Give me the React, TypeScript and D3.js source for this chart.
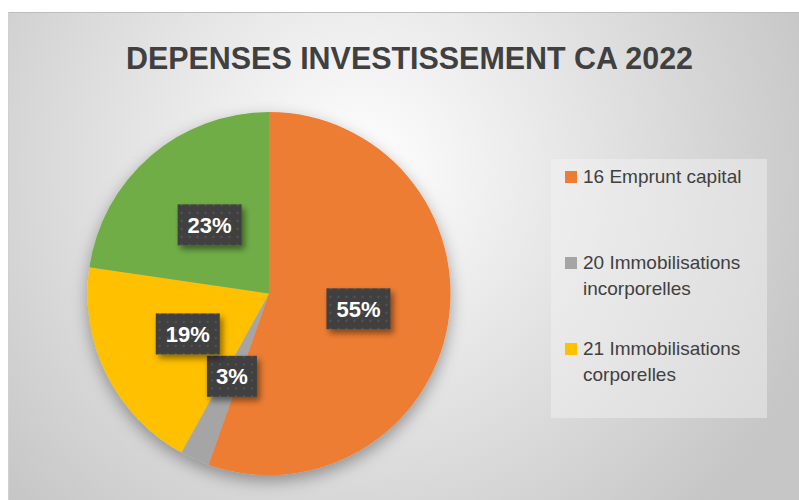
import React from "react";
import * as d3 from "d3";

const categories = [
  "16 Emprunt capital",
  "20 Immobilisations incorporelles",
  "21 Immobilisations corporelles",
  "23 Immobilisations en cours",
];
const values = [55.4, 2.6, 19.3, 22.7];
const colors = ["#ED7D31", "#A5A5A5", "#FFC000", "#70AD47"];
// legend only shows the first three entries in the source
const legendLines = [
  ["16 Emprunt capital"],
  ["20 Immobilisations", "incorporelles"],
  ["21 Immobilisations", "corporelles"],
];
const title = "DEPENSES INVESTISSEMENT CA 2022";

const W = 799;
const H = 500;

export default function App() {
  const cx = 269;
  const cy = 293.5;
  const r = 181.5;

  const data = categories.map((c, i) => ({ key: c, value: values[i], color: colors[i] }));
  const total = d3.sum(values);
  const pct = d3.format(".0%");

  const pie = d3
    .pie<(typeof data)[number]>()
    .sort(null)
    .value((d) => d.value);
  const arcs = pie(data);
  const arc = d3.arc<d3.PieArcDatum<(typeof data)[number]>>().innerRadius(0).outerRadius(r);

  return (
    <svg
      width={W}
      height={H}
      style={{ position: "absolute", left: 0, top: 0 }}
      fontFamily="'Liberation Sans', Arial, sans-serif"
    >
      <defs>
        <radialGradient id="bg" gradientUnits="userSpaceOnUse" cx={360} cy={170} r={480}>
          <stop offset="0" stopColor="#ffffff" />
          <stop offset="1" stopColor="#c6c6c6" />
        </radialGradient>
        <pattern id="dots" width={8} height={8} patternUnits="userSpaceOnUse">
          <rect width={8} height={8} fill="#404040" />
          <circle cx={4} cy={4} r={1.2} fill="#ffffff" opacity={0.1} />
        </pattern>
        <filter id="boxShadow" x="-30%" y="-30%" width="170%" height="170%">
          <feDropShadow dx={3} dy={4} stdDeviation={3} floodColor="#000" floodOpacity={0.45} />
        </filter>
        <filter id="pieShadow" x="-20%" y="-20%" width="140%" height="140%">
          <feDropShadow dx={0} dy={6} stdDeviation={8} floodColor="#000" floodOpacity={0.35} />
        </filter>
      </defs>

      <rect x={8} y={12} width={W - 8} height={H - 12} fill="url(#bg)" />
      <line x1={8} x2={W} y1={12.5} y2={12.5} stroke="#bdbdbd" />
      <line x1={8.5} x2={8.5} y1={12} y2={H} stroke="#d0d0d0" />

      <text
        x={409.5}
        y={69}
        textAnchor="middle"
        fontSize={32}
        fontWeight="bold"
        fill="#404040"
        textLength={567}
        lengthAdjust="spacingAndGlyphs"
      >
        {title}
      </text>

      {/* Pie */}
      <g transform={`translate(${cx},${cy})`}>
        <g filter="url(#pieShadow)">
          {arcs.map((a, i) => (
            <path key={i} d={arc(a) ?? ""} fill={a.data.color} />
          ))}
        </g>
        {arcs.map((a, i) => {
          const [lx, ly] = arc.centroid(a);
          const label = pct(a.data.value / total);
          const bw = 22 + 14 * label.length;
          const bh = 41;
          return (
            <g key={i} transform={`translate(${lx},${ly})`}>
              <rect
                x={-bw / 2}
                y={-bh / 2}
                width={bw}
                height={bh}
                fill="url(#dots)"
                filter="url(#boxShadow)"
              />
              <text
                textAnchor="middle"
                dy="0.36em"
                fontSize={22}
                fontWeight="bold"
                fill="#ffffff"
              >
                {label}
              </text>
            </g>
          );
        })}
      </g>

      {/* Legend */}
      <rect x={551} y={159} width={216} height={259} fill="#f4f4f4" opacity={0.45} />
      {legendLines.map((lines, i) => {
        const top = 171 + i * 86;
        return (
          <g key={i}>
            <rect x={565} y={top} width={12} height={12} fill={colors[i]} />
            {lines.map((t, j) => (
              <text key={j} x={583} y={top + 12 + j * 26} fontSize={19} fill="#404040">
                {t}
              </text>
            ))}
          </g>
        );
      })}
    </svg>
  );
}
